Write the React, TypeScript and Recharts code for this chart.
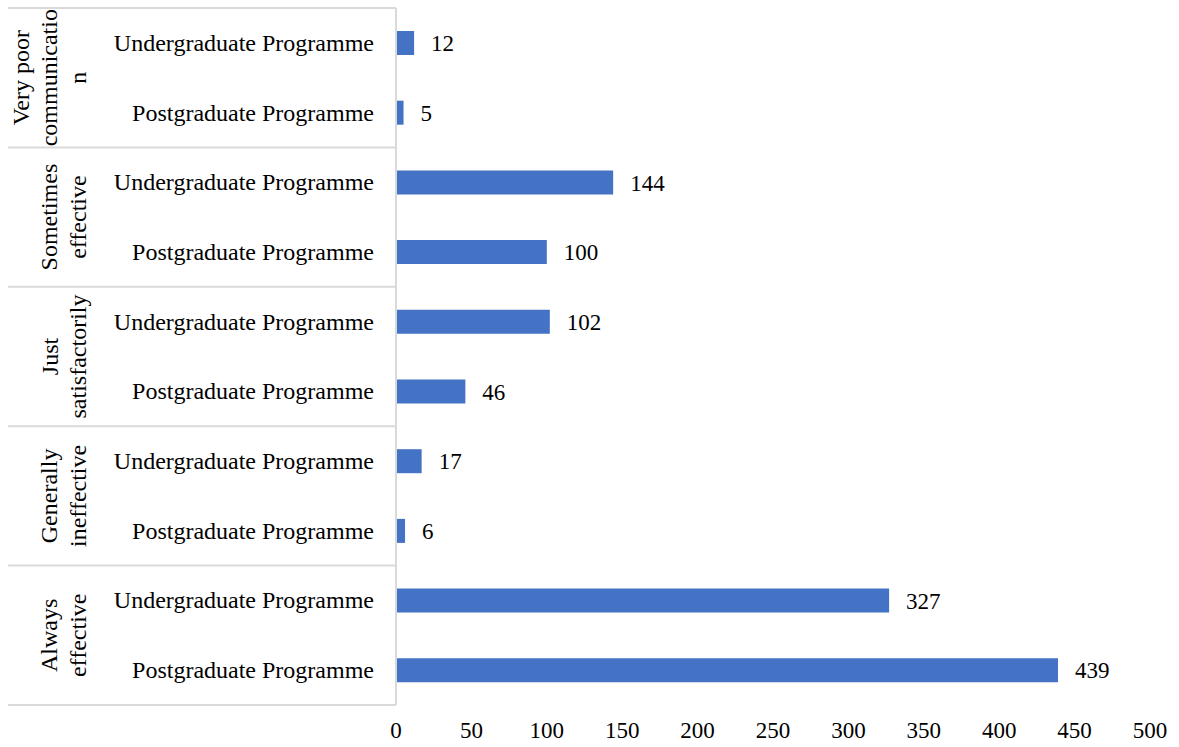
import React from "react";
import { BarChart, Bar, XAxis, YAxis, LabelList } from "recharts";

const groups = [
  "Very poor communication",
  "Sometimes effective",
  "Just satisfactorily",
  "Generally ineffective",
  "Always effective",
];
const groupLines = [
  ["Very poor", "communicatio", "n"],
  ["Sometimes", "effective"],
  ["Just", "satisfactorily"],
  ["Generally", "ineffective"],
  ["Always", "effective"],
];
const programmes = ["Undergraduate Programme", "Postgraduate Programme"];
const undergraduate = [12, 144, 102, 17, 327];
const postgraduate = [5, 100, 46, 6, 439];
const xTicks = [0, 50, 100, 150, 200, 250, 300, 350, 400, 450, 500];

const data = groups.flatMap((g, gi) => [
  { id: `${g}|${programmes[0]}`, group: g, sub: programmes[0], value: undergraduate[gi] },
  { id: `${g}|${programmes[1]}`, group: g, sub: programmes[1], value: postgraduate[gi] },
]);

const W = 1179;
const H = 747;
const M = { top: 8, right: 29, bottom: 0, left: 8 };
const Y_AXIS_W = 388;
const X_AXIS_H = 42;
const FONT = "Liberation Serif";
const GRID = "#d9d9d9";

const plotTop = M.top;
const plotBottom = H - M.bottom - X_AXIS_H;
const rowH = (plotBottom - plotTop) / data.length;
const axisX = M.left + Y_AXIS_W;

const CategoryTick = (props: any) => {
  const { x, y, index } = props;
  const row = data[index];
  if (!row) return null;
  const parts: React.ReactNode[] = [];
  parts.push(
    <text key="sub" x={x} y={y} textAnchor="end" dominantBaseline="central" fontFamily={FONT} fontSize={24} fill="#000">
      {row.sub}
    </text>
  );
  if (index % 2 === 0) {
    const gi = index / 2;
    const lines = groupLines[gi];
    const cy = y + rowH / 2;
    parts.push(
      <line key="top" x1={M.left} x2={axisX} y1={y - rowH / 2} y2={y - rowH / 2} stroke={GRID} strokeWidth={2} />
    );
    lines.forEach((ln, k) => {
      const cx = M.left + 70 - (lines.length - 1 - k) * 28.5;
      parts.push(
        <text
          key={`g${k}`}
          x={cx}
          y={cy}
          textAnchor="middle"
          dominantBaseline="central"
          transform={`rotate(-90 ${cx} ${cy})`}
          fontFamily={FONT}
          fontSize={24}
          fill="#000"
        >
          {ln}
        </text>
      );
    });
  }
  if (index === data.length - 1) {
    parts.push(
      <line key="bot" x1={M.left} x2={axisX} y1={y + rowH / 2} y2={y + rowH / 2} stroke={GRID} strokeWidth={2} />
    );
  }
  return <g>{parts}</g>;
};

export default function App() {
  return (
    <div style={{ position: "absolute", left: 0, top: 0, width: W, height: H, background: "#fff" }}>
      <BarChart width={W} height={H} data={data} layout="vertical" margin={M}>
        <XAxis
          type="number"
          domain={[0, 500]}
          ticks={xTicks}
          axisLine={false}
          tickLine={false}
          tickSize={0}
          tickMargin={17}
          height={X_AXIS_H}
          interval={0}
          tick={{ fontSize: 23, fill: "#000", fontFamily: FONT }}
        />
        <YAxis
          type="category"
          dataKey="id"
          width={Y_AXIS_W}
          axisLine={{ stroke: GRID, strokeWidth: 2 }}
          tickLine={false}
          tickSize={0}
          tickMargin={22}
          interval={0}
          tick={<CategoryTick />}
        />
        <Bar dataKey="value" fill="#4472C4" barSize={24} isAnimationActive={false}>
          <LabelList dataKey="value" position="right" offset={17} fill="#000" fontSize={23} fontFamily={FONT} />
        </Bar>
      </BarChart>
    </div>
  );
}
